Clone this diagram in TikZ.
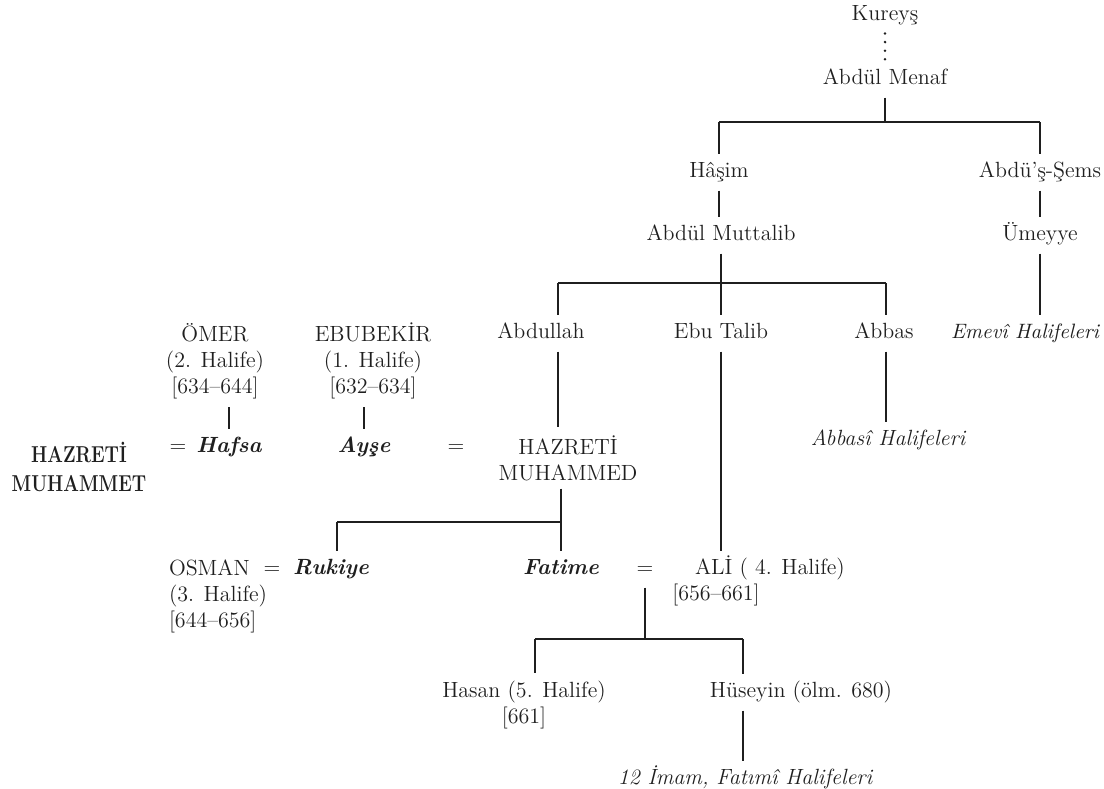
\documentclass[tikz,border=0pt]{standalone}
\definecolor{ink}{gray}{0.12}
\begin{document}
\begin{tikzpicture}[x=0.5pt,y=-0.5pt,
      every node/.style={font=\fontsize{11}{13}\selectfont,text=ink},
      person/.style={inner sep=2pt,outer sep=2pt,text height=8pt,text depth=2.5pt},
      wife/.style={person,font=\fontsize{11}{13}\selectfont\bfseries\itshape},
      dynasty/.style={person,font=\fontsize{11}{13}\selectfont\itshape},
      block/.style={align=center,inner sep=2pt,outer sep=2pt},
      link/.style={draw=ink,line width=0.55pt},
      dotline/.style={draw=ink,line width=1.4pt,line cap=round,dash pattern=on 0pt off 4.3pt}]
\useasboundingbox (0,0) rectangle (1104,788);
\node (kureys) [person] at (885,15) {Kureyş};
\node (menaf) [person] at (885,79) {Abdül Menaf};
\node (hasim) [person] at (719,172) {Hâşim};
\node (sems) [person] at (1040,172) {Abdü’ş-Şems};
\node (muttalib) [person] at (721,235) {Abdül Muttalib};
\node (umeyye) [person] at (1040,235) {Ümeyye};
\node (abdullah) [person] at (541,333) {Abdullah};
\node (ebutalib) [person] at (721,333) {Ebu Talib};
\node (abbas) [person] at (884,333) {Abbas};
\node (emevi) [dynasty,font=\fontsize{10.4}{13}\selectfont\itshape,anchor=east] at (1107,333) {Emevî Halifeleri};
\node (omer) [block] at (215,361) {ÖMER\\(2. Halife)\\{}[634–644]};
\node (ebubekir) [block] at (373,361) {EBUBEKİR\\(1. Halife)\\{}[632–634]};
\node (hazretL) [block,font=\fontsize{11.5}{14.5}\selectfont\bfseries] at (79,467)
  {\scalebox{0.8}[1]{HAZRETİ}\\\scalebox{0.8}[1]{MUHAMMET}};
\node (eq1) [person] at (178,447) {=};
\node (hafsa) [wife] at (229,447) {Hafsa};
\node (ayse) [wife] at (364,447) {Ayşe};
\node (eq2) [person] at (456,447) {=};
\node (muhammed) [block] at (568,458) {HAZRETİ\\MUHAMMED};
\node (abbasi) [dynasty] at (888,440) {Abbasî Halifeleri};
\node (osman) [block,align=left,anchor=west] at (161,596) {OSMAN\\(3. Halife)\\{}[644–656]};
\node (eq3) [person] at (272,569) {=};
\node (rukiye) [wife] at (331,569) {Rukiye};
\node (fatime) [wife] at (561,569) {Fatime};
\node (eq4) [person] at (645,569) {=};
\node (ali) [person,anchor=west] at (687,569) {ALİ ( 4. Halife)};
\node (alidate) [person] at (716,595) {[656–661]};
\node (hasan) [block] at (524,705) {Hasan (5. Halife)\\{}[661]};
\node (huseyin) [person] at (801,692) {Hüseyin (ölm. 680)};
\node (imam) [dynasty] at (745,779) {12 İmam, Fatımî Halifeleri};
\coordinate (m1) at (885,122);
\coordinate (m2l) at (558,283);
\coordinate (m2) at (721,283);
\coordinate (m2r) at (886,283);
\coordinate (m3l) at (337,522);
\coordinate (m3r) at (561,522);
\coordinate (m5l) at (535,639);
\coordinate (m5r) at (743,639);
\draw[dotline] (kureys) -- (menaf);
\draw[link] (menaf) -- (m1);
\draw[link] (hasim |- m1) -- (sems |- m1);
\draw[link] (hasim) -- (hasim |- m1);
\draw[link] (sems) -- (sems |- m1);
\draw[link] (hasim) -- (hasim |- muttalib.north);
\draw[link] (sems) -- (umeyye);
\draw[link] (umeyye) -- (umeyye |- emevi.north);
\draw[link] (muttalib) -- (m2);
\draw[link] (m2l) -- (m2r);
\draw[link] (m2l) -- (m2l |- abdullah.north);
\draw[link] (ebutalib) -- (m2);
\draw[link] (m2r) -- (m2r |- abbas.north);
\draw[link] (m2l |- abdullah.south) -- (m2l |- muhammed.north);
\draw[link] (ebutalib) -- (ebutalib |- ali.north);
\draw[link] (m2r |- abbas.south) -- (m2r |- abbasi.north);
\draw[link] (hafsa) -- (hafsa |- omer.south);
\draw[link] (ayse) -- (ayse |- ebubekir.south);
\draw[link] (m3r |- muhammed.south) -- (m3r);
\draw[link] (m3l) -- (m3r);
\draw[link] (m3l) -- (m3l |- rukiye.north);
\draw[link] (m3r) -- (m3r |- fatime.north);
\draw[link] (eq4) -- (eq4 |- m5l);
\draw[link] (m5l) -- (m5r);
\draw[link] (m5l) -- (m5l |- hasan.north);
\draw[link] (m5r) -- (m5r |- huseyin.north);
\draw[link] (m5r |- huseyin.south) -- (m5r |- imam.north);
\end{tikzpicture}
\end{document}
